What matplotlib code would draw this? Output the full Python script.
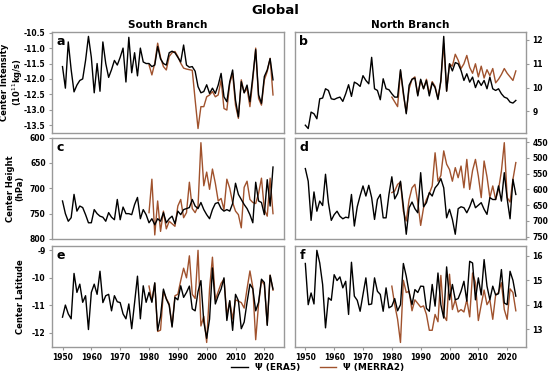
import numpy as np
import matplotlib
matplotlib.use("Agg")
import matplotlib.pyplot as plt

plt.rcParams["axes.unicode_minus"] = False

years_era5 = np.arange(1950, 2024)
years_merra2 = np.arange(1980, 2024)

# South branch, center intensity (10^11 kg/s)
s_int_era5 = [-11.60, -12.30, -10.80, -11.70, -12.42, -12.20, -12.05, -12.00, -11.40, -10.62,
              -11.30, -12.45, -11.50, -12.40, -10.80, -11.50, -11.95, -11.70, -11.40, -11.55,
              -11.30, -11.00, -12.10, -10.65, -11.80, -11.15, -11.90, -11.00, -11.45, -11.50,
              -11.50, -11.60, -11.55, -10.95, -11.35, -11.50, -11.55, -11.15, -11.10, -11.15,
              -11.30, -11.45, -10.90, -11.55, -11.62, -11.60, -11.75, -12.25, -12.45, -12.41,
              -12.19, -12.47, -12.30, -12.47, -12.20, -11.82, -12.58, -12.74, -12.09, -11.71,
              -12.69, -13.23, -12.09, -12.45, -12.20, -12.74, -11.92, -11.05, -12.52, -12.79,
              -11.92, -11.71, -11.34, -12.03]
s_int_merra2 = [-11.54, -11.87, -11.49, -10.84, -11.30, -11.60, -11.71, -11.27, -11.15, -11.11,
                -11.27, -11.49, -11.65, -11.68, -11.70, -11.72, -12.68, -13.61, -12.90, -12.90,
                -12.58, -12.52, -12.41, -12.58, -12.52, -12.03, -12.96, -13.01, -12.14, -11.82,
                -12.85, -13.28, -12.03, -12.45, -12.30, -12.90, -12.03, -11.00, -12.63, -12.85,
                -12.03, -11.76, -11.33, -12.52]

# North branch, center intensity
n_int_era5 = [8.42, 8.28, 8.97, 8.90, 8.69, 9.53, 9.56, 9.95, 9.88, 9.53,
              9.50, 9.56, 9.60, 9.42, 9.74, 10.12, 9.63, 10.23, 10.16, 10.05,
              10.50, 10.30, 10.16, 11.27, 9.95, 9.88, 9.49, 10.37, 9.95, 9.91,
              9.74, 9.60, 9.60, 10.75, 9.80, 8.90, 10.10, 10.35, 10.40, 9.65,
              10.35, 9.95, 10.30, 9.65, 10.20, 10.00, 9.50, 10.30, 12.15, 9.85,
              11.00, 10.70, 11.05, 11.00, 10.72, 10.30, 10.58, 10.23, 10.44, 10.00,
              10.30, 10.09, 10.30, 9.95, 10.44, 9.95, 9.88, 9.95, 9.74, 9.60,
              9.55, 9.39, 9.35, 9.46]
n_int_merra2 = [9.60, 9.40, 9.20, 10.70, 9.70, 8.95, 9.95, 10.35, 10.45, 9.70,
                10.30, 9.95, 10.35, 9.75, 10.25, 10.05, 9.55, 10.25, 11.85, 9.85,
                11.00, 10.90, 11.40, 11.15, 10.80, 11.00, 11.35, 10.85, 10.60, 11.00,
                10.45, 10.90, 10.40, 10.75, 10.50, 10.80, 10.20, 10.35, 10.55, 10.80,
                10.60, 10.45, 10.30, 10.70]

# Center height (hPa)
s_hgt_era5 = [725, 750, 765, 758, 712, 745, 735, 738, 752, 768,
              768, 742, 750, 755, 757, 765, 748, 757, 762, 722,
              762, 737, 750, 750, 752, 732, 718, 760, 742, 752,
              768, 760, 772, 760, 765, 748, 768, 760, 755, 770,
              745, 752, 742, 740, 738, 722, 735, 740, 728, 742,
              752, 760, 742, 730, 728, 740, 745, 742, 745, 730,
              690, 712, 722, 732, 740, 752, 768, 688, 725, 728,
              752, 683, 735, 658]
s_hgt_merra2 = [748, 682, 792, 725, 785, 745, 780, 765, 770, 775,
                735, 722, 758, 748, 688, 740, 748, 735, 610, 695,
                668, 702, 662, 690, 725, 720, 742, 682, 700, 728,
                745, 752, 778, 698, 686, 722, 728, 730, 710, 680,
                742, 755, 680, 750]
n_hgt_era5 = [534, 574, 698, 608, 669, 637, 651, 552, 642, 698,
              680, 669, 685, 693, 688, 690, 616, 716, 655, 620,
              589, 621, 587, 626, 695, 632, 616, 690, 690, 616,
              560, 630, 613, 574, 653, 742, 658, 640, 661, 674,
              547, 655, 642, 610, 621, 595, 584, 566, 595, 690,
              663, 695, 742, 661, 655, 658, 674, 655, 630, 658,
              650, 642, 663, 679, 626, 632, 632, 589, 637, 547,
              630, 693, 568, 616]
n_hgt_merra2 = [610, 605, 584, 577, 669, 700, 632, 595, 584, 640,
                714, 658, 632, 613, 589, 484, 574, 556, 478, 520,
                537, 574, 531, 563, 526, 595, 505, 600, 540, 505,
                558, 626, 510, 560, 626, 589, 632, 600, 542, 452,
                626, 640, 568, 515]

# Center latitude
s_lat_era5 = [-11.43, -10.99, -11.31, -11.49, -9.84, -10.53, -10.23, -10.89, -10.65, -11.88,
              -10.53, -10.23, -10.60, -9.76, -10.90, -10.65, -10.60, -11.20, -10.65, -10.87,
              -10.90, -11.31, -11.49, -10.95, -11.85, -10.90, -9.94, -11.49, -10.29, -10.89,
              -10.53, -10.89, -10.18, -11.91, -11.40, -10.41, -10.77, -11.00, -11.79, -10.71,
              -10.80, -10.29, -10.71, -10.53, -10.30, -11.13, -11.20, -10.50, -10.10, -11.60,
              -12.20, -11.50, -9.64, -10.95, -10.65, -10.41, -10.00, -11.55, -10.83, -11.91,
              -10.60, -10.83, -11.85, -11.61, -10.89, -10.23, -10.40, -11.20, -10.89, -10.05,
              -10.17, -11.73, -9.91, -10.41]
s_lat_merra2 = [-10.30, -10.85, -10.20, -11.95, -11.90, -10.50, -10.75, -10.95, -11.75, -10.65,
                -10.60, -10.10, -9.65, -10.00, -9.20, -10.60, -10.75, -9.00, -11.75, -11.40,
                -12.35, -10.40, -9.25, -10.80, -10.50, -10.20, -10.05, -11.35, -10.85, -11.50,
                -10.80, -10.85, -10.90, -11.10, -10.40, -9.75, -10.35, -12.25, -10.95, -10.10,
                -10.25, -11.70, -9.90, -10.45]
n_lat_era5 = [15.69, 14.00, 14.48, 14.03, 16.23, 15.71, 14.83, 13.05, 14.28, 14.18,
              15.23, 14.99, 15.14, 14.69, 14.96, 13.60, 15.74, 14.35, 14.18, 13.73,
              14.42, 15.10, 14.00, 14.03, 15.10, 14.55, 14.42, 13.73, 14.69, 13.87,
              13.94, 14.25, 13.75, 14.00, 15.69, 15.17, 14.50, 14.00, 14.62, 14.50,
              14.76, 14.75, 13.85, 13.73, 14.83, 13.94, 15.30, 14.00, 13.45, 15.55,
              14.20, 14.83, 14.20, 14.25, 14.55, 14.96, 14.14, 15.78, 15.71, 14.20,
              15.10, 14.40, 15.85, 14.76, 14.20, 14.76, 14.40, 14.45, 15.44, 14.07,
              14.00, 15.37, 15.00, 14.35]
n_lat_merra2 = [14.76, 14.00, 13.40, 12.45, 15.00, 14.50, 14.55, 13.75, 14.20, 14.05,
                13.90, 13.95, 13.60, 12.95, 12.95, 13.60, 13.30, 15.20, 13.55, 13.35,
                15.25, 13.80, 14.20, 13.70, 13.80, 13.70, 14.20, 13.50, 15.30, 14.90,
                13.35, 14.00, 14.60, 14.00, 14.20, 13.40, 14.40, 14.50, 14.90, 13.80,
                13.40, 14.65, 14.50, 13.75]

panels = [
    ("a", s_int_era5, s_int_merra2),
    ("b", n_int_era5, n_int_merra2),
    ("c", s_hgt_era5, s_hgt_merra2),
    ("d", n_hgt_era5, n_hgt_merra2),
    ("e", s_lat_era5, s_lat_merra2),
    ("f", n_lat_era5, n_lat_merra2),
]
ylabels = ["Center Intensity\n(10$^{11}$kg/s)", "Center Height\n(hPa)", "Center Latitude"]

c_era5 = "black"
c_merra2 = "#a0522d"
grey = "#999999"

fig = plt.figure(figsize=(5.5, 3.74), dpi=100)
lefts = [0.0945, 0.536]
bottoms = [0.644, 0.361, 0.072]
w, h = 0.421, 0.271

axes = []
for i, (letter, era5, merra2) in enumerate(panels):
    row, col = divmod(i, 2)
    ax = fig.add_axes([lefts[col], bottoms[row], w, h])
    axes.append(ax)
    l1, = ax.plot(years_era5, era5, color=c_era5, lw=1.0, zorder=3)
    l2, = ax.plot(years_merra2, merra2, color=c_merra2, lw=1.0, zorder=2)
    ax.text(0.02, 0.97, letter, transform=ax.transAxes, ha="left", va="top",
            fontsize=9, fontweight="bold")
    for s in ax.spines.values():
        s.set_color(grey)
        s.set_linewidth(1.0)
    ax.tick_params(colors="black", labelsize=5.5, length=2.5, width=0.8, color=grey, pad=2)
    ax.set_xticks(np.arange(1950, 2021, 10))
    if row < 2:
        ax.tick_params(axis="x", labelbottom=False, length=0)
    if col == 1:
        ax.yaxis.tick_right()
    else:
        ax.set_ylabel(ylabels[row], fontsize=6, fontweight="bold", linespacing=1.1)
        ax.yaxis.set_label_coords(-0.118, 0.5)

axes[2].set_ylim(800, 600)
axes[3].set_ylim(757, 436)
axes[3].set_yticks([450, 500, 550, 600, 650, 700, 750])
axes[0].set_yticks([-10.5, -11.0, -11.5, -12.0, -12.5, -13.0, -13.5])
axes[4].set_yticks([-9, -10, -11, -12])
axes[5].set_yticks([13, 14, 15, 16])
axes[1].set_yticks([9, 10, 11, 12])

for ax in axes:
    for lab in ax.get_xticklabels() + ax.get_yticklabels():
        lab.set_fontweight("bold")

axes[0].set_title("South Branch", fontsize=7.5, fontweight="bold", pad=3)
axes[1].set_title("North Branch", fontsize=7.5, fontweight="bold", pad=3)
fig.text(0.5, 0.972, "Global", ha="center", va="center", fontsize=9.5, fontweight="bold")

fig.legend([l1, l2], ["Ψ (ERA5)", "Ψ (MERRA2)"], loc="center", ncol=2,
           bbox_to_anchor=(0.578, 0.018), frameon=False,
           prop={"size": 6.5, "weight": "bold"}, handlelength=1.8, columnspacing=2.2,
           borderpad=0.1)

fig.savefig("out.png", dpi=100)
